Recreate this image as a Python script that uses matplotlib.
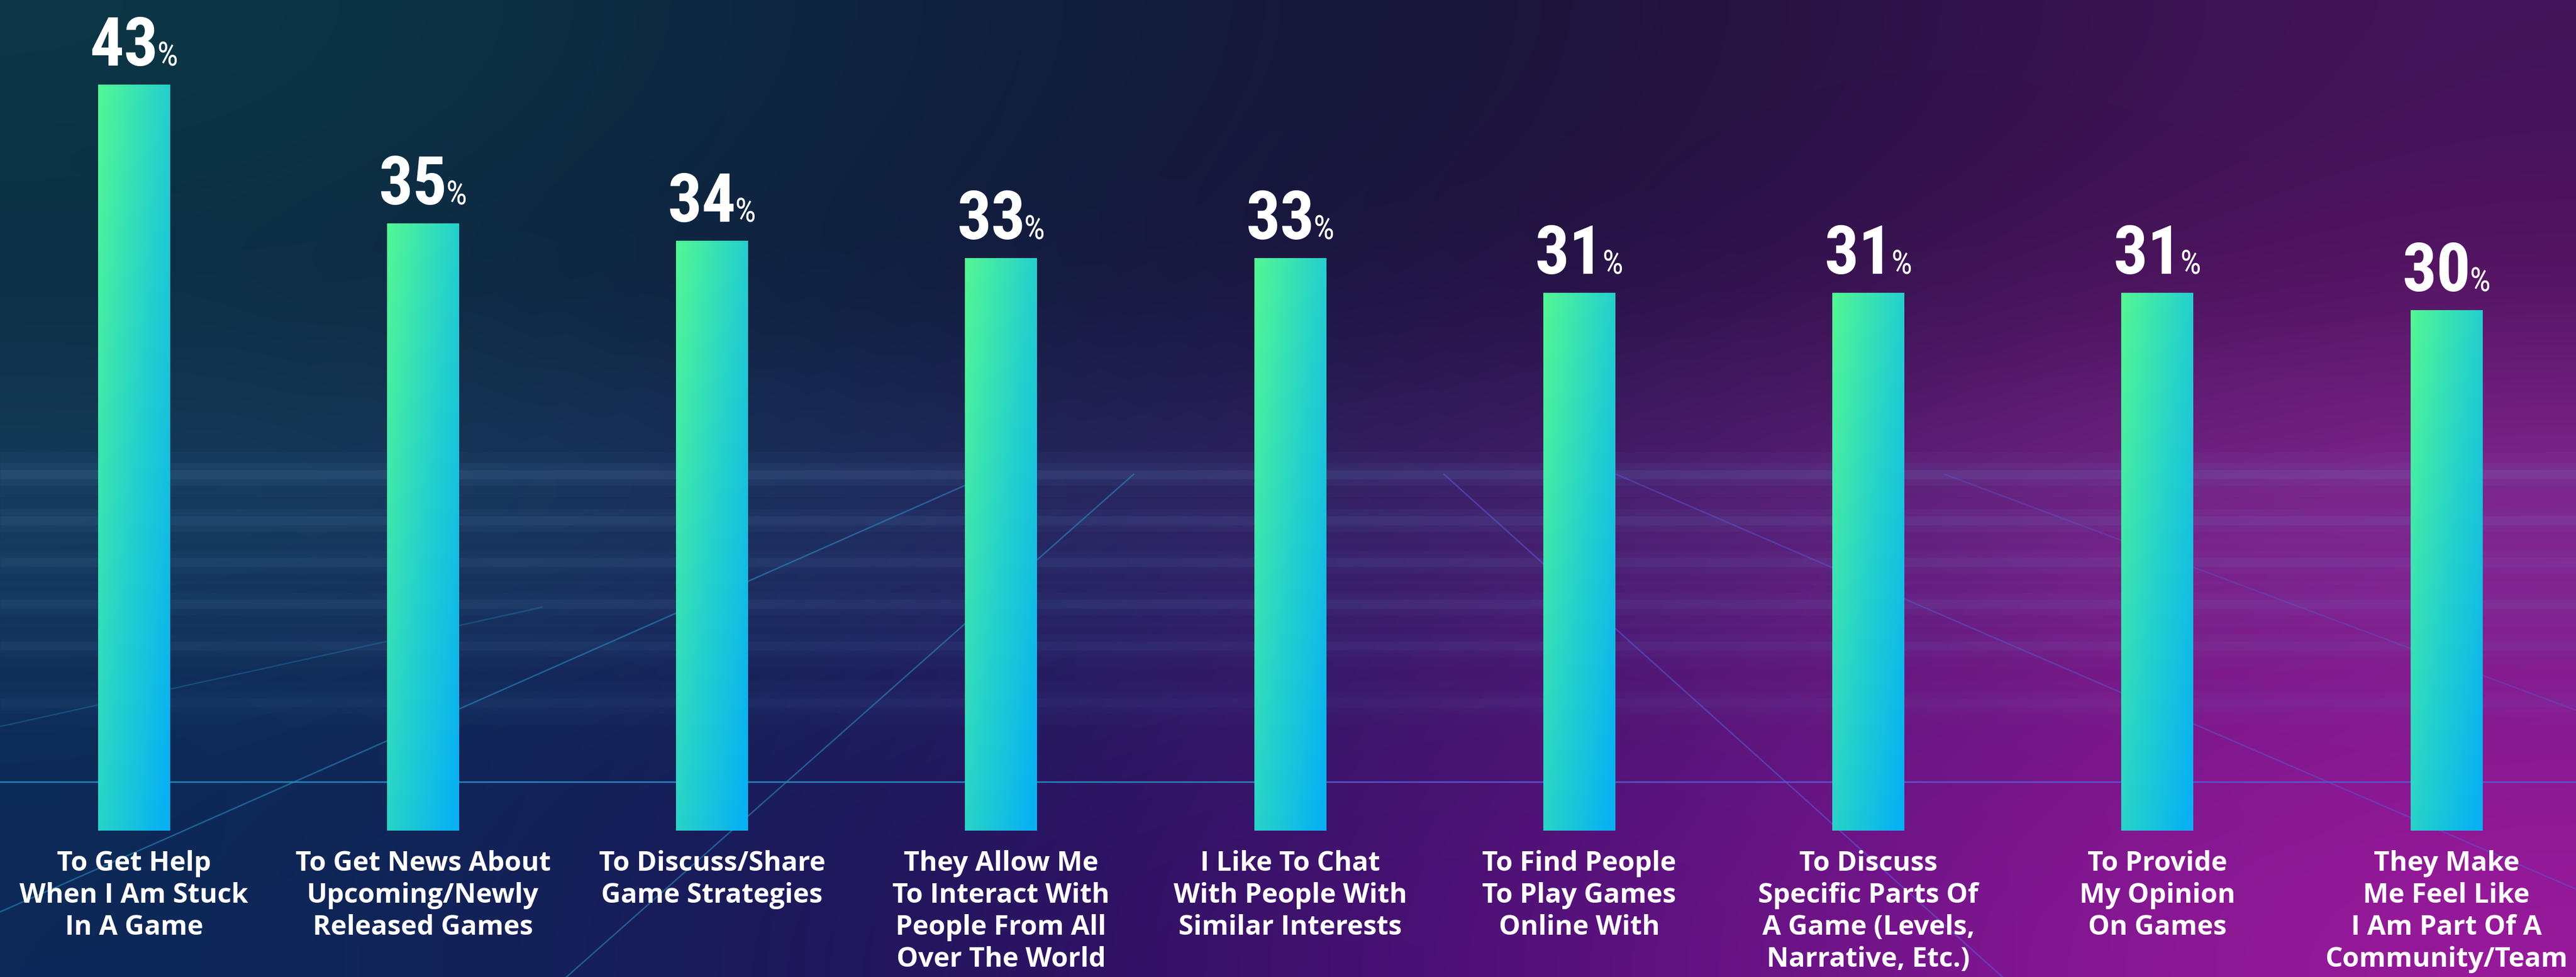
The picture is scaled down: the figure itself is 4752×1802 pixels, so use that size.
import numpy as np
import matplotlib
matplotlib.use("Agg")
import matplotlib.pyplot as plt
from matplotlib.colors import LinearSegmentedColormap, to_rgb

# ---- data ----
categories = [
    "To Get Help\nWhen I Am Stuck\nIn A Game",
    "To Get News About\nUpcoming/Newly\nReleased Games",
    "To Discuss/Share\nGame Strategies",
    "They Allow Me\nTo Interact With\nPeople From All\nOver The World",
    "I Like To Chat\nWith People With\nSimilar Interests",
    "To Find People\nTo Play Games\nOnline With",
    "To Discuss\nSpecific Parts Of\nA Game (Levels,\nNarrative, Etc.)",
    "To Provide\nMy Opinion\nOn Games",
    "They Make\nMe Feel Like\nI Am Part Of A\nCommunity/Team",
]
values = [43, 35, 34, 33, 33, 31, 31, 31, 30]

W, H = 4752, 1802
fig = plt.figure(figsize=(W / 100, H / 100), dpi=100)

# ---- background (decoration) ----
bg_rows = [
    ["#0b3846", "#0f1f3e", "#1a1236", "#44145a"],
    ["#0c2c44", "#0f1a3a", "#220f42", "#561262"],
    ["#17425f", "#1d2b5e", "#481b6e", "#882b96"],
    ["#0c2c56", "#191a5a", "#4c1472", "#84188c"],
    ["#0c2a58", "#22105a", "#5a1080", "#9a1a9c"],
]
bg = np.array([[to_rgb(c) for c in row] for row in bg_rows])

bg_ax = fig.add_axes([0, 0, 1, 1])
bg_ax.imshow(bg, extent=[0, W, H, 0], aspect="auto", interpolation="bicubic")
bg_ax.set_xlim(0, W)
bg_ax.set_ylim(H, 0)
bg_ax.axis("off")

# hazy horizontal grid bands
for yy, a in [(875, 0.09), (960, 0.07), (1037, 0.06), (1114, 0.06), (1191, 0.05), (1296, 0.04)]:
    for lw, aa in [(60, a * 0.4), (30, a * 0.6), (12, a)]:
        bg_ax.plot([0, W], [yy, yy], color="#7ab0e8", lw=lw, alpha=aa, solid_capstyle="butt")

# sharp horizon line
bg_ax.plot([0, 2400], [1442, 1442], color="#2a8fc8", lw=2.2, alpha=0.8)
bg_ax.plot([2400, W], [1442, 1442], color="#5a5ad8", lw=2.2, alpha=0.8)

# perspective lines
persp = [
    ((0, 1682), (1826, 875), "#2a8fc8", 0.55),
    ((0, 1340), (1000, 1120), "#2a8fc8", 0.3),
    ((1045, 1802), (2091, 875), "#2a8fc8", 0.55),
    ((2664, 875), (3694, 1802), "#5a5ad8", 0.55),
    ((2982, 875), (4752, 1640), "#5a5ad8", 0.45),
    ((3588, 875), (4752, 1310), "#5a5ad8", 0.35),
]
for p0, p1, c, a in persp:
    bg_ax.plot([p0[0], p1[0]], [p0[1], p1[1]], color=c, lw=2, alpha=a)

# ---- chart ----
ax = fig.add_axes([0, 0, 1, 1])
ax.patch.set_alpha(0)

x = np.arange(len(values))
spacing_px = 533.25
bar_w = 133 / spacing_px
bars = ax.bar(x, values, width=bar_w, color="none", edgecolor="none", zorder=3)

cmap = LinearSegmentedColormap.from_list("bar", ["#52f794", "#28d4c8", "#08b2f2"])
u = np.linspace(0, 1, 32)[None, :]
v = np.linspace(0, 1, 256)[:, None]
grad = cmap(np.clip(0.55 * u + 0.5 * v, 0, 1))

for b in bars:
    x0 = b.get_x()
    im = ax.imshow(grad, extent=[x0, x0 + b.get_width(), 0, b.get_height()],
                   aspect="auto", origin="upper", zorder=3, interpolation="bilinear")
    im.set_clip_path(b)

left_px, base_px, unit_px = 247, 1532, 32
ax.set_xlim(-left_px / spacing_px, (W - left_px) / spacing_px)
ax.set_ylim(-(H - base_px) / unit_px, base_px / unit_px)
ax.axis("off")

# value labels: big condensed number + small percent sign, centred over the bar
renderer = fig.canvas.get_renderer()
num_font = ["Roboto Condensed", "DejaVu Sans"]
for xi, val in zip(x, values):
    t_num = ax.annotate(f"{val}", (xi, val), xytext=(0, 35), textcoords="offset pixels",
                        ha="left", va="baseline", fontsize=90, fontweight="bold",
                        color="white", family=num_font, zorder=4)
    t_pct = ax.annotate("%", (xi, val), xytext=(0, 35), textcoords="offset pixels",
                        ha="left", va="baseline", fontsize=44, fontweight="normal",
                        color="white", family=num_font, zorder=4)
    wn = t_num.get_window_extent(renderer).width
    wp = t_pct.get_window_extent(renderer).width
    gap = -3
    start = -(wn + gap + wp) / 2
    t_num.set_position((start, 35))
    t_pct.set_position((start + wn + gap, 35))

for xi, lab in zip(x, categories):
    ax.annotate(lab, (xi, 0), xytext=(0, -36), textcoords="offset pixels",
                ha="center", va="top", fontsize=36, fontweight="bold",
                color="white", family=["Open Sans", "DejaVu Sans"],
                linespacing=1.24, zorder=4)

fig.savefig("out.png", dpi=100)
